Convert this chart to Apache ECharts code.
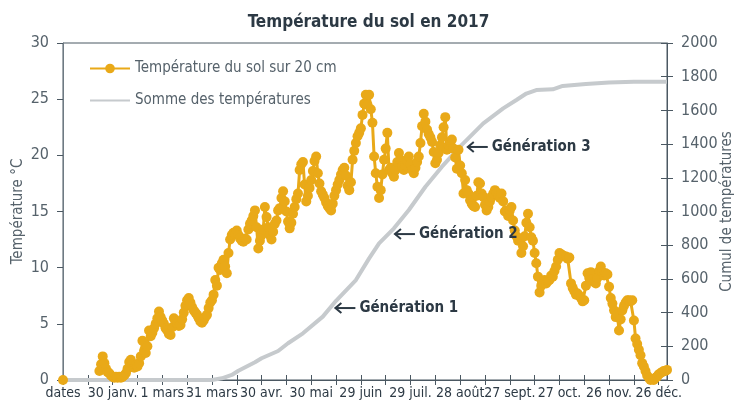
<!DOCTYPE html>
<html>
<head>
<meta charset="utf-8">
<title>Température du sol en 2017</title>
<script src="https://cdn.jsdelivr.net/npm/echarts@6/dist/echarts.min.js"></script>
<style>
  html, body { margin: 0; padding: 0; background: #fff; }
  #chart { width: 737px; height: 405px; }
</style>
</head>
<body>
<div id="chart"></div>
<script>
// categories : "dates" puis chaque jour de 2017
var monthNames = ['janv.', 'févr.', 'mars', 'avr.', 'mai', 'juin', 'juil.', 'août', 'sept.', 'oct.', 'nov.', 'déc.'];
var monthDays = [31, 28, 31, 30, 31, 30, 31, 31, 30, 31, 30, 31];

// température du sol à 20 cm, un point par jour à partir du jour 22
var tempStart = 22;
var tempValues = [
  0.8, 1.4, 2.1, 1.5, 1.0, 0.7, 0.6, 0.4, 0.3, 0.2,
  0.3, 0.2, 0.3, 0.2, 0.3, 0.4, 0.6, 1.0, 1.6, 1.8,
  1.4, 1.1, 1.3, 1.2, 1.5, 2.1, 3.5, 2.6, 2.4, 3.0,
  4.4, 3.9, 4.2, 4.6, 5.0, 5.5, 6.1, 5.6, 5.3, 5.0,
  4.6, 4.4, 4.1, 4.0, 4.7, 5.5, 5.2, 5.0, 4.8, 4.9,
  5.4, 6.0, 6.6, 7.1, 7.3, 6.9, 6.5, 6.2, 6.0, 5.8,
  5.5, 5.2, 5.1, 5.3, 5.6, 5.8, 6.4, 6.9, 7.1, 7.6,
  8.9, 8.4, 10.0, 9.8, 10.4, 10.7, 10.1, 9.5, 11.3, 12.5,
  12.9, 13.1, 13.0, 13.3, 12.9, 12.6, 12.4, 12.3, 12.6, 12.5,
  13.4, 13.9, 14.2, 14.6, 15.1, 13.6, 11.7, 12.4, 12.9, 13.4,
  15.4, 14.5, 13.6, 12.9, 12.5, 13.2, 13.9, 14.2, 15.1, 15.3,
  16.2, 16.8, 15.9, 15.0, 14.1, 13.5, 14.0, 14.8, 15.4, 16.1,
  16.6, 18.7, 19.2, 19.4, 17.4, 15.9, 16.4, 17.1, 17.8, 18.6,
  19.5, 19.9, 18.4, 17.5, 16.8, 16.5, 16.2, 15.8, 15.5, 15.3,
  15.1, 15.7, 16.4, 16.9, 17.4, 17.8, 18.3, 18.7, 18.9, 18.2,
  17.3, 16.9, 17.6, 19.6, 20.4, 21.1, 21.7, 22.0, 22.4, 23.6,
  24.6, 25.4, 24.5, 25.4, 24.1, 22.9, 19.9, 18.4, 17.2, 16.2,
  16.9, 18.3, 19.6, 20.6, 22.0, 18.7, 18.9, 18.4, 18.1, 18.7,
  19.4, 20.2, 19.6, 19.0, 18.7, 19.1, 19.5, 19.9, 19.2, 18.7,
  18.4, 18.9, 19.4, 19.9, 21.1, 22.6, 23.7, 23.0, 22.3, 21.9,
  21.6, 21.2, 20.3, 19.3, 19.6, 20.2, 20.9, 21.6, 22.5, 23.4,
  20.5, 20.9, 21.2, 21.4, 20.6, 19.8, 18.8, 20.5, 19.1, 18.4,
  16.6, 17.8, 16.9, 16.6, 16.0, 15.7, 15.5, 15.4, 16.4, 17.6,
  17.5, 16.6, 16.3, 15.6, 15.1, 15.4, 15.9, 16.3, 16.6, 16.9,
  16.7, 16.4, 16.2, 16.6, 15.9, 15.0, 15.1, 14.6, 15.1, 15.4,
  14.2, 13.3, 12.8, 12.4, 12.6, 11.3, 11.9, 12.8, 14.0, 14.8,
  13.6, 12.7, 12.4, 11.3, 10.4, 9.2, 7.8, 8.4, 8.7, 8.9,
  8.6, 8.8, 8.9, 9.3, 9.2, 9.7, 10.1, 10.7, 11.3, 11.2,
  11.1, 11.0, 11.0, 10.8, 10.9, 8.6, 8.2, 7.9, 7.6, 7.7,
  7.5, 7.3, 7.0, 7.1, 8.4, 9.5, 9.1, 9.6, 9.0, 8.7,
  8.6, 9.1, 9.7, 10.1, 9.6, 9.3, 9.5, 9.4, 8.3, 7.3,
  6.8, 6.2, 5.6, 5.8, 4.4, 5.4, 6.2, 6.6, 6.9, 7.1,
  7.1, 7.0, 7.1, 5.3, 3.7, 3.2, 2.7, 2.2, 1.5, 1.2,
  0.8, 0.4, 0.2, 0.0, -0.1, 0.0, 0.2, 0.3, 0.5, 0.6,
  0.7, 0.8, 0.8, 0.9
];

// somme des températures : [jour, cumul]
var sumPoints = [
  [0, 0], [90, 0], [96, 10], [102, 30], [106, 55], [116, 105], [120, 129],
  [130, 172], [136, 218], [145, 277], [157, 376], [165, 470], [177, 593],
  [185, 722], [189, 781], [191, 811], [200, 900], [209, 1009], [219, 1147],
  [229, 1266], [241, 1395], [254, 1523], [266, 1612], [274, 1662], [280, 1700],
  [286, 1721], [296, 1725], [302, 1745], [316, 1757], [330, 1765], [345, 1770],
  [365, 1770]
];

var annotations = [
  { text: 'Génération 1', day: 164, sum: 427 },
  { text: 'Génération 2', day: 200, sum: 866 },
  { text: 'Génération 3', day: 244, sum: 1383 }
];

var categories = ['dates'];
for (var m = 0; m < 12; m++) {
  for (var d = 1; d <= monthDays[m]; d++) {
    categories.push(d + ' ' + monthNames[m]);
  }
}

var tempData = [];
for (var i = 0; i < categories.length; i++) tempData.push('-');
tempData[0] = 0;
for (var j = 0; j < tempValues.length; j++) tempData[tempStart + j] = tempValues[j];

var font = "'Liberation Sans Narrow', 'DejaVu Sans Condensed', sans-serif";
var dark = '#2c3944';
var lineCol = '#4b5862';
var orange = '#e9a918';
var grey = '#c6cacd';
var plain = function (v) { return String(v); };

var chart = echarts.init(document.getElementById('chart'));
var option = {
  animation: false,
  textStyle: { fontFamily: font },
  title: {
    text: 'Température du sol en 2017',
    left: 'center',
    top: 9,
    textStyle: { fontFamily: font, fontSize: 17, fontWeight: 'bold', color: dark }
  },
  legend: {
    orient: 'vertical',
    left: 84,
    top: 56,
    itemWidth: 40,
    itemHeight: 12,
    itemGap: 17,
    textStyle: { fontFamily: font, fontSize: 15, color: '#56626b' },
    data: [
      { name: 'Température du sol sur 20 cm' },
      { name: 'Somme des températures', itemStyle: { color: 'rgba(0,0,0,0)', borderWidth: 0 } }
    ]
  },
  grid: {
    left: 63, right: 70, top: 43, bottom: 25,
    outerBoundsMode: 'none',
    containLabel: false,
    show: true, borderColor: lineCol, borderWidth: 1
  },
  xAxis: [{
    type: 'category',
    data: categories,
    boundaryGap: false,
    axisLine: { lineStyle: { color: lineCol, width: 1 } },
    axisTick: { interval: 14, length: 5, lineStyle: { color: lineCol } },
    axisLabel: { interval: 29, hideOverlap: false, fontFamily: font, fontSize: 14, color: dark, margin: 6 },
    splitLine: { show: false }
  }, {
    type: 'category',
    data: categories,
    boundaryGap: false,
    position: 'bottom',
    axisLine: { show: false },
    axisTick: { interval: 14, inside: true, length: 5, lineStyle: { color: lineCol } },
    axisLabel: { show: false },
    splitLine: { show: false }
  }],
  yAxis: [{
    type: 'value',
    min: 0, max: 30, interval: 5,
    name: 'Température °C',
    nameLocation: 'middle',
    nameGap: 37,
    nameMoveOverlap: false,
    nameTextStyle: { fontFamily: font, fontSize: 15, color: '#56626b' },
    axisLine: { show: true, lineStyle: { color: '#6e7a83' } },
    axisTick: { show: true, length: 6, lineStyle: { color: lineCol } },
    axisLabel: { fontFamily: font, fontSize: 16, color: '#56626b', margin: 14, formatter: plain },
    splitLine: { show: false }
  }, {
    type: 'value',
    min: 0, max: 2000, interval: 200,
    position: 'right',
    name: 'Cumul de températures',
    nameLocation: 'middle',
    nameGap: 53,
    nameMoveOverlap: false,
    nameRotate: 90,
    nameTextStyle: { fontFamily: font, fontSize: 15, color: '#56626b' },
    axisLine: { show: true, lineStyle: { color: lineCol } },
    axisTick: { show: true, length: 6, lineStyle: { color: lineCol } },
    axisLabel: { fontFamily: font, fontSize: 16, color: '#56626b', margin: 14, formatter: plain },
    splitLine: { show: false }
  }, {
    type: 'value',
    min: 0, max: 2000, interval: 200,
    position: 'right',
    axisLine: { show: false },
    axisTick: { show: true, inside: true, length: 6, lineStyle: { color: lineCol } },
    axisLabel: { show: false },
    splitLine: { show: false }
  }],
  series: [{
    name: 'Somme des températures',
    type: 'line',
    yAxisIndex: 1,
    data: sumPoints,
    symbol: 'none',
    lineStyle: { color: grey, width: 4 },
    itemStyle: { color: grey },
    z: 2
  }, {
    name: 'Température du sol sur 20 cm',
    type: 'line',
    yAxisIndex: 0,
    data: tempData,
    connectNulls: false,
    symbol: 'circle',
    symbolSize: 10,
    showAllSymbol: true,
    lineStyle: { color: orange, width: 3 },
    itemStyle: { color: orange },
    z: 3
  }]
};
chart.setOption(option);

// flèches "Génération" placées sur la courbe de cumul
var gfx = [];
annotations.forEach(function (a) {
  var p = chart.convertToPixel({ xAxisIndex: 0, yAxisIndex: 1 }, [a.day, a.sum]);
  var x = p[0], y = p[1];
  gfx.push({
    type: 'line', shape: { x1: x + 1, y1: y, x2: x + 21, y2: y },
    style: { stroke: dark, lineWidth: 2 }, z: 10
  });
  gfx.push({
    type: 'polyline', shape: { points: [[x + 7, y - 5], [x + 1, y], [x + 7, y + 5]] },
    style: { stroke: dark, lineWidth: 2, fill: null }, z: 10
  });
  gfx.push({
    type: 'text', x: x + 25, y: y,
    style: { text: a.text, font: 'bold 15px ' + font, fill: dark, verticalAlign: 'middle' }, z: 10
  });
});
chart.setOption({ graphic: gfx });
</script>
</body>
</html>
